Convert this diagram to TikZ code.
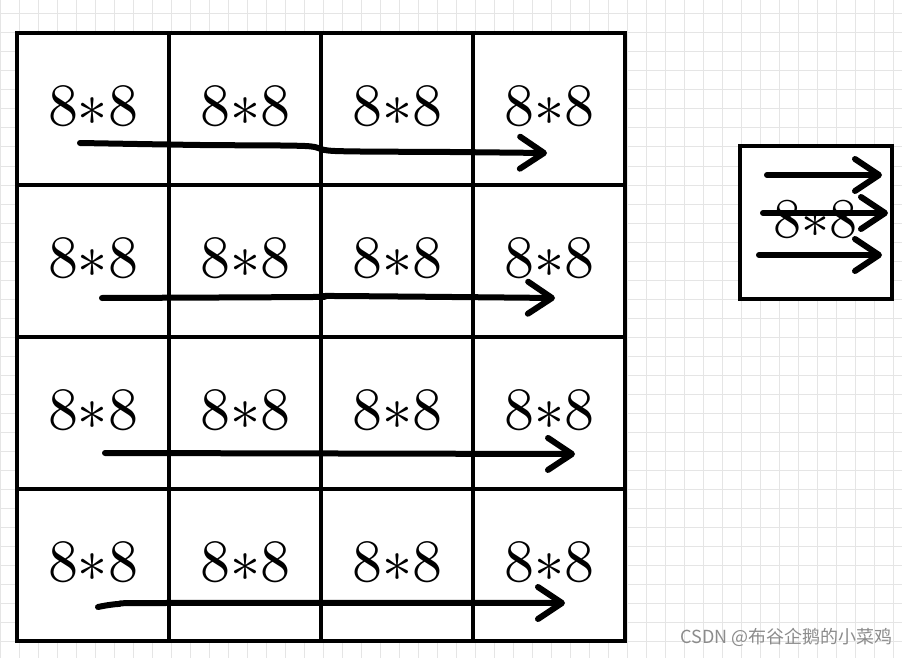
\documentclass[tikz,border=0pt]{standalone}
\usepackage{graphicx}
\usepackage{fontspec}
\newfontfamily\cjk{Noto Sans CJK SC}
\usetikzlibrary{arrows.meta}
\newcommand\blocklabel[1][6]{\raisebox{6pt}{\scalebox{#1}{$8{\ast}8$}}}
\tikzset{
  gridline/.style={line width=1pt,color=black!10},
  cell/.style={draw,fill=white,line width=4pt,minimum size=152pt,inner sep=0pt},
  stroke/.style={line width=6pt,line cap=round,line join=round,
    -{Straight Barb[length=24pt,width=32pt,round]}}
}
\begin{document}
\begin{tikzpicture}[x=1pt,y=-1pt]
  \useasboundingbox (0,0) rectangle (902,658);
  \fill[white] (0,0) rectangle (902,658);
  % paper grid
  \foreach \x in {0,...,47}
    \draw[gridline] (19*\x,0) -- (19*\x,658);
  \foreach \y in {0,...,34}
    \draw[gridline] (0,14+19*\y) -- (902,14+19*\y);
  % 4x4 blocks
  \foreach \r in {0,...,3}
    \foreach \c in {0,...,3}
      \node[cell] (cell-\r-\c) at (93+152*\c,109+152*\r) {\blocklabel};
  % single block
  \node[cell] (block) at (815.5,222.5) {\blocklabel[5.6]};
  % scan order
  \draw[stroke] plot[smooth,tension=0.5] coordinates {(80,143) (200,145) (305,146) (335,151) (450,152) (547,153)};
  \draw[stroke] plot[smooth,tension=0.5] coordinates {(102,298) (313,297) (335,296) (555,298)};
  \draw[stroke] (105,453) -- (575,454);
  \draw[stroke] plot[smooth,tension=0.5] coordinates {(98,607) (118,604) (163,603) (565,603)};
  \draw[stroke] (767,175) -- (882,175);
  \draw[stroke] (763,213) -- (888,213);
  \draw[stroke] (759,255) -- (882,255);
  \node[anchor=east,inner sep=0pt,text=black!45] (mark) at (893,637)
    {\cjk\fontsize{18}{18}\selectfont CSDN @布谷企鹅的小菜鸡};
\end{tikzpicture}
\end{document}
